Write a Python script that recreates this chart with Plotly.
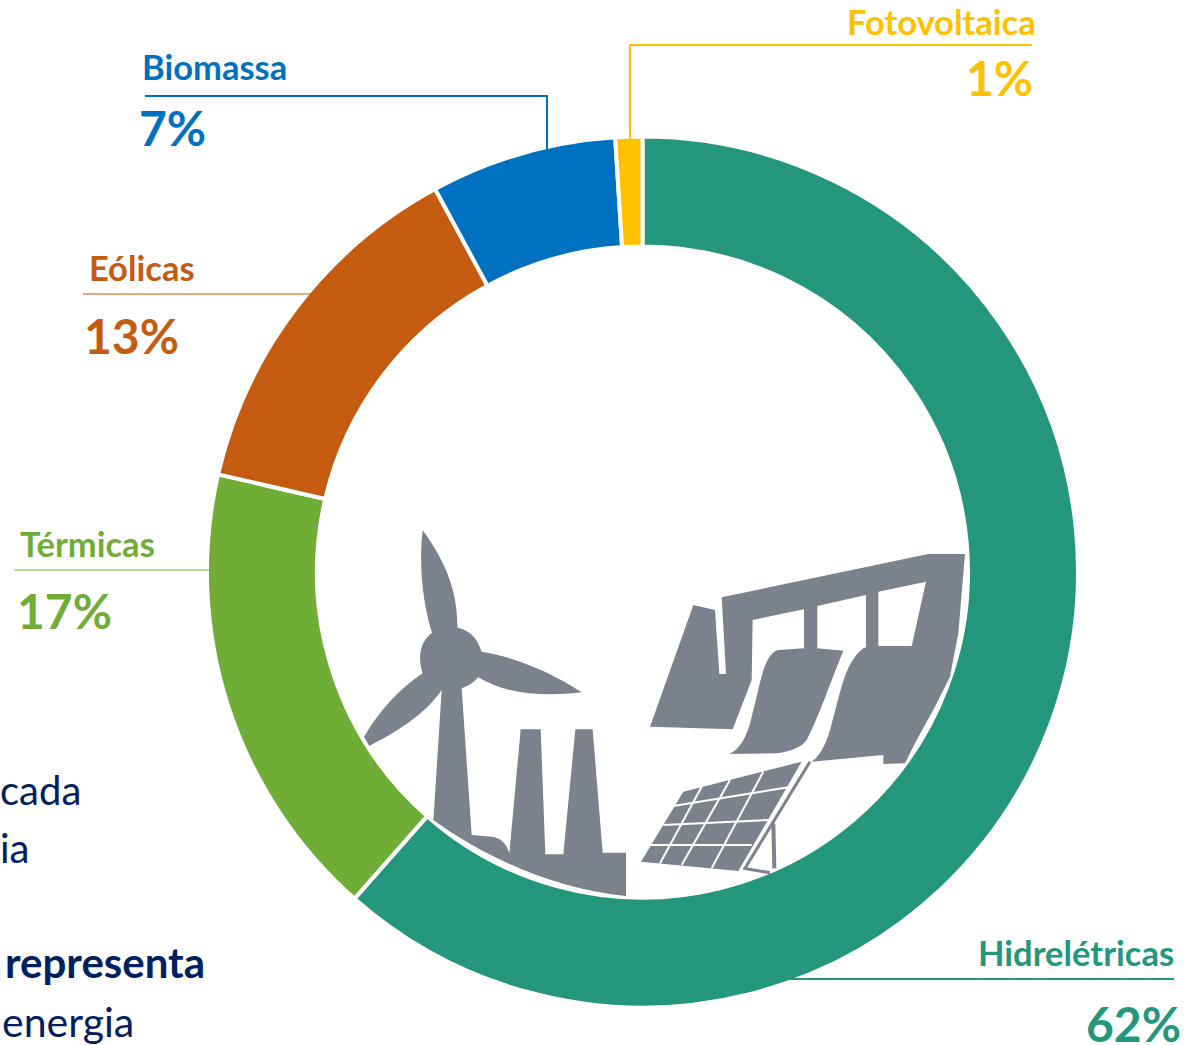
import plotly.graph_objects as go

W, H = 1194, 1045
categories = ["Hidrelétricas", "Térmicas", "Eólicas", "Biomassa", "Fotovoltaica"]
values = [61.5, 17.1, 13.5, 6.9, 1.0]
percent_labels = ["62%", "17%", "13%", "7%", "1%"]
colors = ["#23967B", "#70AD37", "#C55A11", "#0070C0", "#FFC000"]
GRAY = "#7C828C"
NAVY = "#002060"
FONT = "Lato, 'Open Sans', sans-serif"

def X(x): return x / W
def Y(y): return 1 - y / H

def path(cmds, ox, oy, s=1/3):
    out = []
    for c in cmds:
        if c[0] == "Z":
            out.append("Z")
            continue
        pts = c[1:]
        parts = []
        for i in range(0, len(pts), 2):
            parts.append(f"{X(ox + pts[i] * s):.5f},{Y(oy + pts[i + 1] * s):.5f}")
        out.append(c[0] + " ".join(parts))
    return " ".join(out)

def shape(cmds, ox, oy, fill):
    return dict(type="path", xref="paper", yref="paper", layer="above",
                path=path(cmds, ox, oy), fillcolor=fill, line=dict(width=0))

def seg(pts, ox, oy, color, width, s=1/3):
    cmds = [("M", *pts[0])] + [("L", *p) for p in pts[1:]]
    return dict(type="path", xref="paper", yref="paper", layer="above",
                path=path(cmds, ox, oy, s), line=dict(color=color, width=width),
                fillcolor="rgba(0,0,0,0)")

turbine_factory = [
    ("M", 218, 30), ("C", 290, 130, 325, 220, 322, 332), ("Q", 375, 340, 395, 395),
    ("C", 490, 410, 600, 455, 695, 517), ("C", 590, 530, 470, 525, 385, 472),
    ("Q", 365, 495, 335, 505), ("L", 365, 945), ("L", 425, 950), ("Q", 465, 955, 478, 1000),
    ("L", 512, 628), ("L", 572, 628), ("L", 586, 1003), ("L", 640, 1003), ("L", 676, 628),
    ("L", 728, 628), ("L", 758, 998), ("L", 828, 998), ("L", 828, 1128),
    ("C", 640, 1110, 430, 1030, 250, 900), ("L", 275, 510),
    ("C", 220, 590, 130, 640, 58, 678), ("L", 42, 650), ("C", 90, 570, 150, 505, 218, 460),
    ("Q", 200, 400, 248, 345), ("C", 220, 260, 205, 140, 218, 30), ("Z",),
]
hub = [("M", 210, 415), ("C", 210, 290, 394, 290, 394, 415), ("C", 394, 540, 210, 540, 210, 415), ("Z",)]
dam = [
    ("M", 60, 560), ("L", 190, 195), ("L", 255, 210), ("L", 268, 402), ("L", 288, 402),
    ("L", 275, 172), ("L", 895, 42), ("L", 1005, 42), ("L", 985, 280), ("L", 960, 410), ("L", 915, 500),
    ("L", 860, 600), ("L", 825, 670), ("L", 760, 672), ("L", 760, 645), ("L", 545, 665),
    ("Q", 580, 640, 600, 570), ("C", 630, 470, 640, 370, 700, 325), ("L", 708, 322),
    ("L", 708, 165), ("L", 562, 198), ("L", 562, 325), ("L", 640, 332),
    ("C", 600, 430, 570, 520, 530, 600), ("Q", 510, 630, 440, 640), ("L", 298, 642),
    ("Q", 345, 620, 365, 530), ("C", 390, 440, 400, 340, 445, 330), ("L", 522, 325),
    ("L", 522, 208), ("L", 368, 240), ("L", 365, 420), ("L", 308, 568), ("Z",),
]
dam_window = [("M", 745, 155), ("L", 888, 125), ("L", 845, 318), ("L", 745, 318), ("Z",)]
panel = [("M", 160, 755), ("L", 515, 665), ("L", 325, 993), ("L", 33, 965), ("Z",)]

shapes = [
    shape(turbine_factory, 350, 520, GRAY),
    shape(hub, 350, 520, GRAY),
    shape(dam, 630, 540, GRAY),
    shape(dam_window, 630, 540, "white"),
    shape(panel, 630, 540, GRAY),
]
for a, b in [((130, 798), (475, 742)), ((100, 855), (415, 840)), ((60, 915), (365, 915)),
             ((215, 740), (90, 970)), ((300, 720), (155, 975)), ((400, 695), (245, 985))]:
    shapes.append(seg([a, b], 630, 540, "white", 2))
shapes.append(seg([(540, 665), (345, 985)], 630, 540, GRAY, 3))
shapes.append(seg([(430, 850), (433, 985)], 630, 540, GRAY, 4))
shapes.append(seg([(340, 985), (420, 998)], 630, 540, GRAY, 3))

for pts, col, w in [
    ([(1032, 45), (630, 45), (630, 140)], colors[4], 2),
    ([(145, 96), (547, 96), (547, 150)], colors[3], 2),
    ([(83, 294), (315, 294)], colors[2], 1.2),
    ([(14, 570), (210, 570)], colors[1], 1.2),
    ([(785, 979), (1174, 979)], colors[0], 2),
]:
    shapes.append(seg(pts, 0, 0, col, w, s=1))

fig = go.Figure(go.Pie(
    labels=categories, values=values, hole=0.7475, sort=False, direction="clockwise",
    rotation=0, textinfo="none", hoverinfo="label+percent",
    marker=dict(colors=colors, line=dict(color="white", width=4)),
    domain=dict(x=[X(207), X(1078)], y=[Y(1007.5), Y(136.5)]),
    showlegend=False,
))

def note(text, x, y, anchor, size, color, bold=True, **extra):
    return dict(text=f"<b>{text}</b>" if bold else text, x=X(x), y=Y(y), xref="paper", yref="paper",
                xanchor=anchor, yanchor="middle", showarrow=False, borderpad=0, borderwidth=0,
                font=dict(family=FONT, size=size, color=color), **extra)

annotations = [
    note(categories[4], 1036, 22, "right", 34.5, colors[4]),
    note(percent_labels[4], 1033, 77, "right", 48, colors[4]),
    note(categories[3], 142, 67, "left", 34.5, colors[3]),
    note(percent_labels[3], 139, 127, "left", 48, colors[3]),
    note(categories[2], 89, 267, "left", 34.5, colors[2]),
    note(percent_labels[2], 84, 335, "left", 48, colors[2]),
    note(categories[1], 20, 543, "left", 34.5, colors[1]),
    note(percent_labels[1], 17, 610, "left", 48, colors[1]),
    note(categories[0], 1174, 952, "right", 34.5, colors[0]),
    note(percent_labels[0], 1181, 1023, "right", 48, colors[0], height=42),
    note("cada", 81, 790, "right", 40, NAVY, False),
    note("ia", 29, 848, "right", 40, NAVY, False),
    note("representa", 205, 962, "right", 42, NAVY),
    note("energia", 134, 1021, "right", 41, NAVY, False),
]

fig.update_layout(width=W, height=H, margin=dict(l=0, r=0, t=0, b=0), paper_bgcolor="white",
                  shapes=shapes, annotations=annotations)
fig.write_html("out.html", config={"displayModeBar": False},
               post_script="document.body.style.margin='0';document.body.style.overflow='hidden';")
